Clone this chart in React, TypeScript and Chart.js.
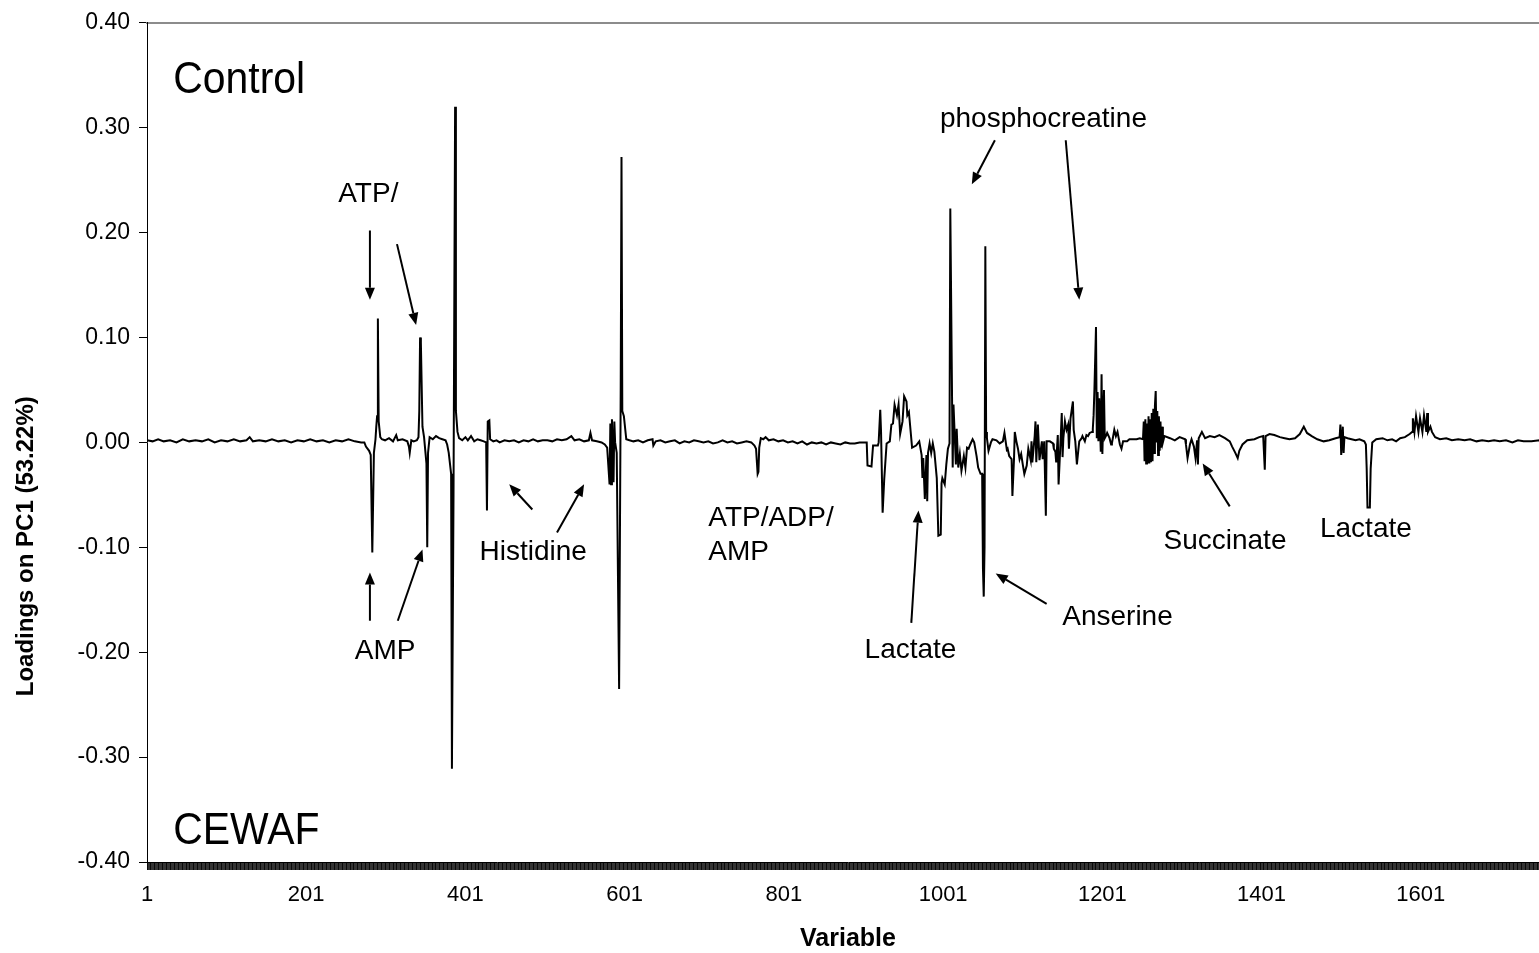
import React, { useEffect, useRef } from 'react';
import { Chart, registerables } from 'chart.js';

Chart.register(...registerables);

// ---- data ----
const variableIndex = [
  1, 8, 15, 22, 30, 38, 46, 54, 62, 70, 78, 86, 94, 102, 110, 118, 126, 130, 134, 142,
  150, 158, 166, 174, 182, 190, 198, 206, 214, 222, 230, 238, 246, 254, 262, 270,
  274, 276, 280, 282, 284, 286, 288, 289, 290, 291, 292, 294, 296, 300, 305, 310, 314, 316,
  322, 328, 330, 331, 333, 336, 340,
  342, 343, 344, 345, 347, 349, 352, 353, 354, 356, 360, 364, 368, 372, 376, 378, 380, 383,
  384, 386, 388, 389, 391, 393, 397, 401, 404, 408, 412, 416, 420, 424, 427, 428, 429, 431,
  432, 436, 440,
  444, 450, 456, 462, 468, 474, 480, 486, 492, 498, 504, 510, 516, 522, 528, 534, 538, 544,
  550, 556, 558, 560, 566, 572, 576, 579, 582, 583, 584, 585, 587, 588, 589, 591, 594, 596,
  597, 598, 600, 603, 607,
  612, 618, 624, 630, 636, 637, 640, 646, 652, 658, 664, 670, 676, 682, 688, 694, 700, 706,
  712, 718, 724, 730, 736, 742, 748, 754, 760, 764, 766, 768, 769, 770, 772, 775, 778, 782,
  788, 794, 800, 806, 812, 818, 824, 830, 836, 842, 848, 854, 860, 866, 872, 878, 884, 890,
  896, 905,
  906, 911, 913, 919, 920, 922, 923, 925, 927, 930, 934, 936, 938, 940, 943, 945, 947, 950,
  952, 955, 956, 958, 962, 967, 971, 974, 975, 976, 978, 980, 981, 982, 984, 986, 988, 990,
  993, 995, 998, 999, 1000, 1003, 1005, 1007, 1009, 1010, 1013, 1014, 1017, 1018, 1020, 1022,
  1024, 1027, 1029, 1031, 1033, 1035, 1038, 1040, 1043, 1045, 1048, 1050, 1051, 1052, 1053,
  1054, 1055, 1056, 1058, 1061, 1063, 1068, 1072,
  1076, 1078, 1081, 1082, 1084, 1087, 1088, 1090, 1091, 1093, 1095, 1097, 1099, 1101, 1103,
  1106, 1107, 1108, 1111, 1112, 1113, 1116, 1117, 1118, 1120, 1122, 1125, 1126, 1128, 1130,
  1131, 1135, 1139, 1140, 1142, 1143, 1145, 1146, 1149, 1150, 1151, 1152, 1154, 1156, 1158,
  1159, 1161, 1164, 1165, 1167, 1169, 1171, 1172, 1175, 1176, 1179, 1181, 1183, 1185, 1188,
  1189, 1190, 1191, 1193, 1194, 1195, 1196, 1197, 1199, 1200, 1201, 1203, 1204, 1206, 1207,
  1210, 1212, 1213, 1216, 1218, 1220, 1223, 1225, 1227, 1232, 1235, 1239, 1244, 1248, 1252,
  1253, 1254, 1255, 1256, 1257, 1258, 1259, 1260, 1261, 1262, 1263, 1264, 1265, 1266, 1267,
  1268, 1269, 1270, 1271, 1272, 1273, 1274, 1275, 1276, 1277, 1279,
  1286, 1292, 1298, 1305, 1306, 1308, 1311, 1313, 1316, 1318, 1320, 1321, 1322, 1326, 1330,
  1336, 1342, 1348, 1355, 1361, 1364, 1368, 1371, 1373, 1377, 1383, 1392, 1398, 1403, 1405,
  1406, 1411, 1417, 1424, 1430, 1436, 1443, 1449, 1454, 1458, 1464, 1471, 1479, 1486, 1494,
  1499, 1500, 1501, 1503, 1504, 1505, 1509, 1514, 1519, 1524, 1530, 1532, 1533, 1534, 1537,
  1538, 1540, 1545, 1553, 1559, 1565, 1570, 1575, 1581, 1587, 1590, 1591, 1593, 1595, 1598,
  1600, 1603, 1605, 1608, 1609, 1610, 1613, 1615, 1619, 1625, 1633, 1640, 1648, 1656, 1663,
  1671, 1678, 1686, 1693, 1700, 1708, 1716, 1723, 1730, 1740, 1750, 1762,
];

const pc1Loadings = [
  0.002, 0.001, 0.003, 0.001, 0.002, 0.0, 0.003, 0.001, 0.002, 0.001, 0.003, 0.0, 0.002, 0.001, 0.003, 0.001, 0.002, 0.005, 0.001, 0.002,
  0.001, 0.003, 0.001, 0.002, 0.0, 0.002, 0.001, 0.003, 0.001, 0.002, 0.0, 0.002, 0.001, 0.003, 0.001, 0.0,
  0.0, -0.004, -0.008, -0.012, -0.105, -0.01, 0.003, 0.015, 0.025, 0.118, 0.02, 0.005, 0.003, 0.002, 0.004, 0.001, 0.007, 0.002,
  0.003, 0.001, -0.004, -0.01, 0.002, 0.001, 0.002,
  0.005, 0.03, 0.1, 0.095, 0.015, 0.005, -0.02, -0.1, -0.01, 0.005, 0.003, 0.006, 0.004, 0.003, 0.002, -0.002, -0.01, -0.03,
  -0.311, -0.05, 0.32, 0.03, 0.01, 0.004, 0.002, 0.005, 0.002, 0.006, 0.001, 0.003, 0.002, 0.001, 0.0, -0.065, 0.02, 0.021,
  0.003, 0.001, 0.002,
  0.0, 0.002, 0.001, 0.002, 0.0, 0.002, 0.001, 0.003, 0.001, 0.002, 0.002, 0.001, 0.003, 0.002, 0.003, 0.006, 0.002, 0.003,
  0.001, 0.002, 0.009, 0.002, 0.001, 0.0, -0.002, -0.005, -0.04, 0.018, -0.04, 0.022, -0.038, 0.02, 0.0, -0.01, -0.235, 0.05,
  0.272, 0.03, 0.025, 0.003, 0.002,
  0.001, 0.002, 0.0, 0.002, 0.003, -0.003, 0.001, 0.002, 0.0, 0.001, 0.002, -0.001, 0.001, 0.0, 0.002, 0.001, 0.0, 0.001,
  -0.001, 0.0, 0.002, 0.0, 0.001, -0.001, 0.0, 0.001, 0.0, -0.003, -0.006, -0.03, -0.028, -0.005, 0.004, 0.003, 0.005, 0.002,
  0.003, 0.001, 0.002, 0.0, 0.001, -0.001, 0.001, -0.002, 0.0, -0.001, 0.0, -0.002, 0.0, -0.001, -0.002, 0.0, -0.001, -0.001,
  0.0, 0.0,
  -0.022, -0.023, -0.003, -0.003, 0.0, 0.031, 0.01, -0.067, -0.035, -0.001, 0.001, 0.017, 0.018, 0.036, 0.026, 0.036, 0.008, 0.02,
  0.044, 0.039, 0.026, 0.029, -0.005, -0.003, 0.001, -0.012, -0.034, -0.015, -0.054, -0.012, -0.056, -0.01, -0.001, -0.01, -0.001, -0.009,
  -0.034, -0.089, -0.088, -0.039, -0.034, -0.04, -0.021, -0.006, -0.001, 0.223, -0.024, 0.036, -0.021, 0.013, -0.024, -0.011,
  -0.027, -0.013, -0.024, -0.005, -0.006, -0.002, 0.003, 0.0, -0.013, -0.024, -0.03, -0.03, -0.12, -0.147, -0.1,
  0.187, 0.01, 0.004, -0.008, 0.0, 0.003, 0.002, -0.001,
  0.001, 0.009, -0.007, -0.006, -0.013, -0.016, -0.051, -0.016, 0.01, 0.001, -0.006, -0.016, -0.011, -0.021, -0.03,
  -0.022, -0.014, -0.006, -0.017, 0.001, -0.019, 0.006, 0.02, -0.019, 0.017, -0.017, 0.001, -0.016, 0.001, -0.07,
  0.001, 0.001, -0.001, -0.006, -0.009, -0.019, 0.007, -0.04, 0.01, 0.028, -0.014, 0.004, 0.02, 0.012, 0.017,
  -0.006, 0.023, 0.039, 0.012, 0.001, -0.021, -0.006, 0.001, 0.004, 0.006, 0.001, 0.007, 0.006, 0.009, 0.01,
  0.013, 0.026, 0.05, 0.11, 0.004, 0.048, 0.001, 0.042, -0.009, 0.065, -0.011, 0.05, 0.004, 0.007, 0.009,
  0.004, -0.002, -0.001, 0.012, 0.006, 0.01, -0.002, -0.006, 0.001, 0.001, 0.003, 0.003, 0.003, 0.004, 0.003,
  0.02, -0.018, 0.022, -0.02, 0.018, -0.02, 0.025, -0.02, 0.022, -0.019, 0.028, -0.018, 0.032, -0.01, 0.035,
  0.049, 0.0, 0.03, -0.012, 0.025, -0.008, 0.02, -0.005, 0.015, 0.0, 0.006,
  0.004, 0.002, 0.005, 0.003, -0.002, -0.015, -0.002, 0.003, -0.004, -0.015, 0.002, -0.021, 0.004, 0.01, 0.004,
  0.006, 0.005, 0.007, 0.004, 0.001, -0.004, -0.01, -0.015, -0.008, -0.002, 0.002, 0.003, 0.005, 0.006, -0.026,
  0.006, 0.008, 0.007, 0.005, 0.004, 0.003, 0.004, 0.008, 0.015, 0.009, 0.006, 0.003, 0.001, 0.002, 0.004,
  0.005, 0.017, -0.012, 0.015, -0.01, 0.005, 0.004, 0.003, 0.002, 0.003, 0.001, -0.002, -0.025, -0.062, -0.062,
  -0.025, 0.0, 0.003, 0.004, 0.002, 0.003, 0.001, 0.004, 0.005, 0.008, 0.01, 0.023, 0.01, 0.025, 0.01,
  0.023, 0.01, 0.026, 0.01, 0.028, 0.01, 0.015, 0.01, 0.005, 0.003, 0.004, 0.002, 0.003, 0.002, 0.003,
  0.001, 0.002, 0.001, 0.002, 0.001, 0.002, 0.0, 0.002, 0.001, 0.001, 0.002, 0.001,
];

const variableCount = 1762;
const xTickLabels = [1, 201, 401, 601, 801, 1001, 1201, 1401, 1601];
const yMin = -0.4;
const yMax = 0.4;
const yStep = 0.1;

// group labels (Control / CEWAF), anchored in data coordinates
const groupLabels = ['Control', 'CEWAF'];
const groupLabelVars = [34, 34];
const groupLabelLoads = [0.345, -0.371];

// metabolite labels, anchored in data coordinates
const peakLabels = ['ATP/', 'AMP', 'Histidine', 'ATP/ADP/', 'AMP', 'Lactate', 'Anserine', 'phosphocreatine', 'Succinate', 'Lactate'];
const peakLabelVars = [279, 300, 486, 706, 706, 960, 1220, 1127, 1355, 1532];
const peakLabelLoads = [0.237, -0.199, -0.105, -0.072, -0.105, -0.198, -0.167, 0.308, -0.094, -0.083];
const peakLabelAlign = ['center', 'center', 'center', 'left', 'left', 'center', 'center', 'center', 'center', 'center'];

// arrows: from (var, loading) to (var, loading)
const arrowFromVars = [281, 315, 281, 316, 485, 516, 961, 1131, 1066, 1155, 1361];
const arrowFromLoads = [0.202, 0.189, -0.170, -0.170, -0.064, -0.086, -0.172, -0.154, 0.288, 0.288, -0.061];
const arrowToVars = [281, 339, 281, 347, 456, 550, 970, 1067, 1037, 1172, 1327];
const arrowToLoads = [0.136, 0.112, -0.124, -0.102, -0.040, -0.040, -0.065, -0.125, 0.246, 0.136, -0.020];

const yAxisTitle = 'Loadings on PC1 (53.22%)';
const yAxisTitleLoad = -0.099;
const xAxisTitle = 'Variable';

const FONT = '"Liberation Sans", Arial, Helvetica, sans-serif';

const annotationPlugin = {
  id: 'pcaAnnotations',
  afterDraw(chart: any) {
    const { ctx, scales } = chart;
    const xs = scales.x;
    const ys = scales.y;
    ctx.save();
    ctx.fillStyle = '#000';
    ctx.strokeStyle = '#000';

    // group labels
    ctx.font = `44px ${FONT}`;
    ctx.textBaseline = 'middle';
    ctx.textAlign = 'left';
    groupLabels.forEach((t, i) => {
      const px = xs.getPixelForValue(groupLabelVars[i]);
      const py = ys.getPixelForValue(groupLabelLoads[i]);
      ctx.save();
      ctx.translate(px, py);
      ctx.scale(0.93, 1);
      ctx.fillText(t, 0, 0);
      ctx.restore();
    });

    // peak labels
    ctx.font = `28px ${FONT}`;
    peakLabels.forEach((t, i) => {
      ctx.textAlign = peakLabelAlign[i];
      ctx.fillText(t, xs.getPixelForValue(peakLabelVars[i]), ys.getPixelForValue(peakLabelLoads[i]));
    });

    // arrows
    ctx.lineWidth = 2;
    arrowFromVars.forEach((_, i) => {
      const x1 = xs.getPixelForValue(arrowFromVars[i]);
      const y1 = ys.getPixelForValue(arrowFromLoads[i]);
      const x2 = xs.getPixelForValue(arrowToVars[i]);
      const y2 = ys.getPixelForValue(arrowToLoads[i]);
      const a = Math.atan2(y2 - y1, x2 - x1);
      const head = 12;
      const half = 5;
      const bx = x2 - Math.cos(a) * head;
      const by = y2 - Math.sin(a) * head;
      ctx.beginPath();
      ctx.moveTo(x1, y1);
      ctx.lineTo(bx, by);
      ctx.stroke();
      ctx.beginPath();
      ctx.moveTo(x2, y2);
      ctx.lineTo(bx + Math.sin(a) * half, by - Math.cos(a) * half);
      ctx.lineTo(bx - Math.sin(a) * half, by + Math.cos(a) * half);
      ctx.closePath();
      ctx.fill();
    });

    // y axis title
    ctx.save();
    ctx.translate(26, ys.getPixelForValue(yAxisTitleLoad));
    ctx.rotate(-Math.PI / 2);
    ctx.font = `bold 24px ${FONT}`;
    ctx.textAlign = 'center';
    ctx.textBaseline = 'middle';
    ctx.fillText(yAxisTitle, 0, 0);
    ctx.restore();

    ctx.restore();
  },
};

export default function App() {
  const canvasRef = useRef<HTMLCanvasElement | null>(null);

  useEffect(() => {
    const canvas = canvasRef.current;
    if (!canvas) return;
    const points = variableIndex.map((v, i) => ({ x: v, y: pc1Loadings[i] }));
    const chart = new Chart(canvas, {
      type: 'line',
      data: {
        datasets: [
          {
            data: points,
            borderColor: '#000',
            borderWidth: 2,
            pointRadius: 0,
            tension: 0,
            fill: false,
          },
        ],
      },
      options: {
        responsive: false,
        maintainAspectRatio: false,
        animation: false,
        devicePixelRatio: 1,
        layout: { padding: { top: 19, left: 0, right: 11, bottom: 0 } },
        plugins: {
          legend: { display: false },
          tooltip: { enabled: false },
          title: { display: false },
        },
        scales: {
          x: {
            type: 'linear',
            position: 'bottom',
            min: 1,
            max: variableCount,
            afterBuildTicks: (axis: any) => {
              const t = [];
              for (let v = 1; v <= variableCount; v++) t.push({ value: v });
              axis.ticks = t;
            },
            afterFit: (axis: any) => {
              axis.height = 91;
              axis.paddingLeft = 0;
              axis.paddingRight = 0;
            },
            ticks: {
              autoSkip: false,
              maxRotation: 0,
              minRotation: 0,
              padding: 12,
              color: '#000',
              font: { family: FONT, size: 22 },
              callback: (v: any) => (xTickLabels.includes(Number(v)) ? String(v) : ''),
            },
            grid: {
              display: true,
              drawOnChartArea: false,
              drawTicks: true,
              tickLength: 8,
              color: '#000',
              lineWidth: 0.8,
            },
            border: { display: true, color: '#000', width: 1 },
            title: {
              display: true,
              text: xAxisTitle,
              color: '#000',
              font: { family: FONT, size: 25, weight: 'bold', lineHeight: 1 },
              padding: { top: 0, bottom: 1 },
            },
          },
          xTop: {
            type: 'linear',
            position: 'top',
            min: 1,
            max: variableCount,
            afterFit: (axis: any) => {
              axis.height = 0;
              axis.paddingLeft = 0;
              axis.paddingRight = 0;
            },
            ticks: { display: false },
            grid: { display: false, drawTicks: false },
            border: { display: true, color: '#8c8c8c', width: 2 },
          },
          y: {
            type: 'linear',
            position: 'left',
            min: yMin,
            max: yMax,
            afterFit: (axis: any) => {
              axis.width = 147;
            },
            ticks: {
              stepSize: yStep,
              padding: 9,
              color: '#000',
              font: { family: FONT, size: 23 },
              callback: (v: any) => (Math.abs(Number(v)) < 1e-9 ? '0.00' : Number(v).toFixed(2)),
            },
            grid: {
              display: true,
              drawOnChartArea: false,
              drawTicks: true,
              tickLength: 8,
              color: '#000',
              lineWidth: 1,
            },
            border: { display: true, color: '#000', width: 1 },
          },
        },
      },
      plugins: [annotationPlugin],
    } as any);
    return () => chart.destroy();
  }, []);

  return (
    <div style={{ position: 'fixed', left: 0, top: 0, width: 1539, height: 953, overflow: 'hidden', background: '#fff' }}>
      <canvas ref={canvasRef} width={1560} height={953} style={{ display: 'block' }} />
    </div>
  );
}
